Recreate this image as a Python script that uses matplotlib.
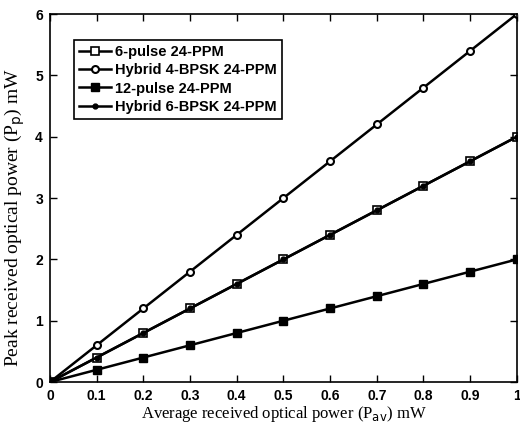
import matplotlib
matplotlib.use("Agg")
import matplotlib.pyplot as plt

x = [0, 0.1, 0.2, 0.3, 0.4, 0.5, 0.6, 0.7, 0.8, 0.9, 1.0]
y_6pulse = [0, 0.4, 0.8, 1.2, 1.6, 2.0, 2.4, 2.8, 3.2, 3.6, 4.0]
y_h4bpsk = [0, 0.6, 1.2, 1.8, 2.4, 3.0, 3.6, 4.2, 4.8, 5.4, 6.0]
y_12pulse = [0, 0.2, 0.4, 0.6, 0.8, 1.0, 1.2, 1.4, 1.6, 1.8, 2.0]
y_h6bpsk = [0, 0.4, 0.8, 1.2, 1.6, 2.0, 2.4, 2.8, 3.2, 3.6, 4.0]
xticks = [0, 0.1, 0.2, 0.3, 0.4, 0.5, 0.6, 0.7, 0.8, 0.9, 1]
xticklabels = ["0", "0.1", "0.2", "0.3", "0.4", "0.5", "0.6", "0.7", "0.8", "0.9", "1"]
yticks = [0, 1, 2, 3, 4, 5, 6]

fig = plt.figure(figsize=(5.2, 4.25), dpi=100)
ax = fig.add_axes([0.096, 0.101, 0.898, 0.866])

lw = 1.8
ax.plot(x, y_6pulse, color="k", lw=lw, marker="s", ms=6, mfc="white", mec="k", mew=1.2, label="6-pulse 24-PPM")
ax.plot(x, y_h4bpsk, color="k", lw=lw, marker="o", ms=5, mfc="white", mec="k", mew=1.5, label="Hybrid 4-BPSK 24-PPM")
ax.plot(x, y_12pulse, color="k", lw=lw, marker="s", ms=5.5, mfc="k", mec="k", label="12-pulse 24-PPM")
ax.plot(x, y_h6bpsk, color="k", lw=lw, marker="o", ms=3.5, mfc="k", mec="k", label="Hybrid 6-BPSK 24-PPM")

ax.set_xlim(0, 1)
ax.set_ylim(0, 6)
ax.set_xticks(xticks)
ax.set_xticklabels(xticklabels)
ax.set_yticks(yticks)
for lab in ax.get_xticklabels() + ax.get_yticklabels():
    lab.set_fontfamily("Liberation Sans")
    lab.set_fontweight("bold")
    lab.set_fontsize(10)
ax.tick_params(direction="in", top=True, right=True, length=5, width=1, pad=5)
for s in ax.spines.values():
    s.set_linewidth(1.2)

ax.set_xlabel(r"Average received optical power (P$_{\rm av}$) mW", family="Liberation Serif", fontsize=12, labelpad=1)
ax.set_ylabel(r"Peak received optical power (P$_{\rm p}$) mW", family="Liberation Serif", fontsize=14, labelpad=6)
ax.yaxis.set_label_coords(-0.05, 0.446)

leg = ax.legend(loc="upper left", bbox_to_anchor=(0.035, 0.95), prop={"family": "Liberation Sans", "weight": "bold", "size": 10.5},
                fancybox=False, edgecolor="k", framealpha=1, handlelength=2.2, handletextpad=0.3,
                borderpad=0.35, labelspacing=0.3)
leg.get_frame().set_linewidth(1.2)

fig.savefig("out.png", dpi=100)
